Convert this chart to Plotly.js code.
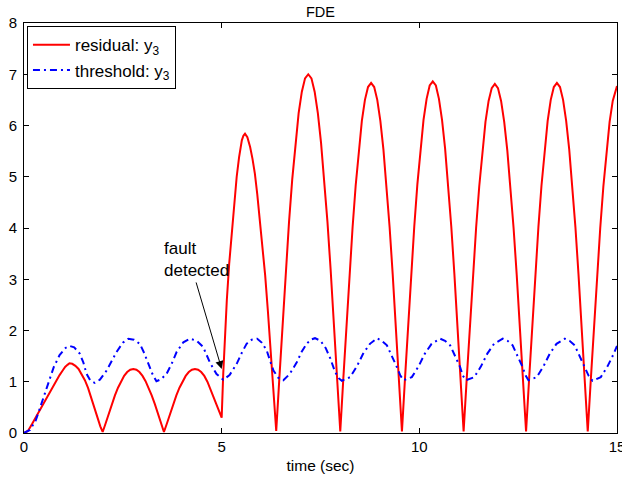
<!DOCTYPE html>
<html>
<head>
<meta charset="utf-8">
<script src="https://cdn.plot.ly/plotly-3.0.1.min.js"></script>
<style>html,body{margin:0;padding:0;background:#fff;}#chart{width:622px;height:481px;}</style>
</head>
<body>
<div id="chart"></div>
<script>
// residual y3 (red)
var residualT = [0,0.1,0.2,0.3,0.4,0.5,0.6,0.7,0.8,0.9,0.97,1.04,1.1,1.15,1.22,1.3,1.38,1.46,1.54,1.62,1.7,1.78,1.86,1.93,1.99,
  2.068,2.145,2.223,2.30,2.378,2.455,2.533,2.61,2.688,2.765,2.843,2.92,2.998,3.075,3.153,3.23,3.308,3.385,3.463,3.54,
  3.619,3.697,3.776,3.854,3.933,4.011,4.09,4.168,4.247,4.325,4.404,4.482,4.561,4.639,4.718,4.796,4.875,4.953,5.0,
  5.04,5.09,5.13,5.19,5.25,5.31,5.38,5.44,5.51,5.55,5.59,5.65,5.72,5.78,5.84,5.90,5.95,6.03,6.10,6.17,6.24,6.31,6.38,
  6.461,6.542,6.623,6.704,6.785,6.866,6.947,7.028,7.109,7.19,7.271,7.352,7.433,7.514,7.595,7.676,7.757,7.838,7.919,8.0,
  8.078,8.156,8.234,8.312,8.39,8.468,8.546,8.624,8.702,8.78,8.858,8.936,9.014,9.092,9.17,9.248,9.326,9.404,9.482,9.56,
  9.638,9.716,9.794,9.872,9.95,10.028,10.106,10.184,10.262,10.34,10.418,10.496,10.574,10.652,10.73,10.808,10.886,10.964,11.042,11.12,
  11.199,11.278,11.357,11.436,11.515,11.594,11.673,11.752,11.831,11.91,11.989,12.068,12.147,12.226,12.305,12.384,12.463,12.542,12.621,12.70,
  12.778,12.856,12.934,13.012,13.09,13.168,13.246,13.324,13.402,13.48,13.558,13.636,13.714,13.792,13.87,13.948,14.026,14.104,14.182,14.26,
  14.339,14.418,14.497,14.576,14.655,14.734,14.813,14.892,14.971,15.0];
var residualY = [0,0.04,0.17,0.31,0.45,0.59,0.73,0.87,1.0,1.13,1.21,1.29,1.33,1.36,1.35,1.31,1.25,1.15,1.03,0.88,0.70,0.50,0.30,0.13,0.02,
  0.195,0.386,0.568,0.735,0.884,1.011,1.114,1.189,1.235,1.25,1.235,1.189,1.114,1.011,0.884,0.735,0.568,0.386,0.195,0.02,
  0.195,0.386,0.568,0.735,0.884,1.011,1.114,1.189,1.235,1.25,1.235,1.189,1.114,1.0,0.85,0.69,0.53,0.38,0.30,
  1.16,2.0,2.59,3.3,3.89,4.45,5.0,5.38,5.71,5.80,5.84,5.77,5.58,5.35,5.06,4.66,4.28,3.70,3.08,2.37,1.60,0.81,0.04,
  1.09,2.16,3.18,4.12,4.95,5.66,6.24,6.66,6.92,7.0,6.92,6.66,6.24,5.66,4.95,4.12,3.18,2.16,1.09,0.03,
  1.07,2.11,3.10,4.02,4.83,5.53,6.09,6.50,6.75,6.83,6.75,6.50,6.09,5.53,4.83,4.02,3.10,2.11,1.07,0.03,
  1.07,2.12,3.11,4.03,4.85,5.55,6.11,6.52,6.78,6.86,6.78,6.52,6.11,5.55,4.85,4.03,3.11,2.12,1.07,0.03,
  1.06,2.10,3.09,4.00,4.81,5.51,6.07,6.48,6.73,6.81,6.73,6.48,6.07,5.51,4.81,4.00,3.09,2.10,1.06,0.03,
  1.07,2.11,3.10,4.02,4.83,5.53,6.09,6.50,6.75,6.83,6.75,6.50,6.09,5.53,4.83,4.02,3.10,2.11,1.07,0.03,
  1.06,2.10,3.09,4.00,4.81,5.51,6.07,6.48,6.73,6.77];

// threshold y3 (blue)
var thresholdT = [0,0.15,0.3,0.45,0.6,0.75,0.9,1.05,1.15,1.27,1.41,1.5,1.58,1.68,1.79,1.92,2.09,2.22,2.34,2.5,2.64,2.78,2.93,3.04,3.14,3.25,3.35,
  3.47,3.61,3.74,3.86,4.03,4.2,4.37,4.53,4.62,4.70,4.87,5.04,5.2,5.38,5.5,5.63,5.76,5.90,6.02,6.14,6.22,6.31,6.43,6.56,
  6.72,6.90,7.02,7.15,7.25,7.36,7.5,7.63,7.75,7.87,7.96,8.04,8.25,8.42,8.58,8.75,8.93,9.05,9.18,9.3,9.43,9.52,9.6,
  9.81,9.98,10.14,10.31,10.53,10.65,10.78,10.9,11.03,11.1,11.18,
  11.39,11.56,11.72,11.89,12.11,12.23,12.36,12.48,12.61,12.69,12.76,
  12.97,13.14,13.3,13.47,13.68,13.8,13.93,14.05,14.18,14.28,14.38,
  14.59,14.76,14.9,15.0];
var thresholdY = [0,0.06,0.25,0.6,0.95,1.28,1.52,1.66,1.70,1.67,1.55,1.38,1.16,1.02,0.98,1.04,1.22,1.40,1.58,1.76,1.84,1.82,1.74,1.56,1.35,1.15,1.01,
  1.05,1.16,1.36,1.58,1.77,1.84,1.80,1.68,1.53,1.38,1.15,1.04,1.13,1.35,1.55,1.74,1.82,1.84,1.76,1.61,1.42,1.22,1.08,1.03,
  1.15,1.38,1.58,1.74,1.82,1.85,1.80,1.66,1.45,1.19,1.07,1.02,1.09,1.30,1.55,1.74,1.85,1.80,1.71,1.52,1.29,1.12,1.03,
  1.09,1.30,1.55,1.74,1.84,1.80,1.71,1.52,1.29,1.12,1.03,
  1.09,1.30,1.55,1.74,1.84,1.80,1.71,1.52,1.29,1.12,1.03,
  1.09,1.30,1.55,1.74,1.84,1.80,1.71,1.52,1.29,1.12,1.02,
  1.09,1.30,1.52,1.70];

var seriesNames = ['residual: y<sub>3</sub>', 'threshold: y<sub>3</sub>'];
var xTicks = [0,5,10,15];
var yTicks = [0,1,2,3,4,5,6,7,8];
var faultPoint = {t: 5.0, y: 1.25};
var faultText = 'fault<br>detected';

var FONT = 'Liberation Sans, Arial, Helvetica, sans-serif';

var traces = [
  {x: residualT, y: residualY, type: 'scatter', mode: 'lines', name: seriesNames[0],
   line: {color: '#ff0000', width: 2}},
  {x: thresholdT, y: thresholdY, type: 'scatter', mode: 'lines', name: seriesNames[1],
   line: {color: '#0000ff', width: 2, dash: '7px,4px,2px,4px'}}
];

var axisCommon = {
  showgrid: false, zeroline: false, showline: true, linecolor: '#000', linewidth: 1,
  mirror: 'ticks', ticks: 'inside', ticklen: 5, tickwidth: 1, tickcolor: '#000',
  tickfont: {family: FONT, size: 15, color: '#000'}, ticklabeloverflow: 'allow'
};

var layout = {
  width: 622, height: 481,
  margin: {l: 24, r: 5, t: 23, b: 48},
  paper_bgcolor: '#fff', plot_bgcolor: '#fff',
  font: {family: FONT, size: 15, color: '#000'},
  title: {text: 'FDE', font: {family: FONT, size: 14.5, color: '#000'}, x: 0.5, xref: 'paper', y: 1 - 12/481, yanchor: 'middle'},
  xaxis: Object.assign({}, axisCommon, {range: [0, 15], tickvals: xTicks, ticktext: xTicks.map(String),
    title: {text: 'time (sec)', font: {family: FONT, size: 15.5, color: '#000'}, standoff: 6}}),
  yaxis: Object.assign({}, axisCommon, {range: [0, 8], tickvals: yTicks, ticktext: yTicks.map(String), ticklabelstandoff: 3}),
  showlegend: true,
  legend: {x: 0.005, y: 0.992, xanchor: 'left', yanchor: 'top', bgcolor: '#fff', bordercolor: '#000', borderwidth: 1,
    font: {family: FONT, size: 17, color: '#000'}, itemwidth: 37, tracegroupgap: 0},
  annotations: [
    {x: faultPoint.t, y: faultPoint.y, xref: 'x', yref: 'y', text: '', showarrow: true,
     ax: -26, ay: -88, axref: 'pixel', ayref: 'pixel', arrowhead: 2, arrowsize: 1.6, arrowwidth: 1, arrowcolor: '#000'},
    {x: 3.49, y: 3.39, xref: 'x', yref: 'y', text: faultText, showarrow: false, xanchor: 'left', yanchor: 'middle',
     align: 'left', font: {family: FONT, size: 17, color: '#000'}}
  ]
};

Plotly.newPlot('chart', traces, layout, {displayModeBar: false, staticPlot: true});
</script>
</body>
</html>
